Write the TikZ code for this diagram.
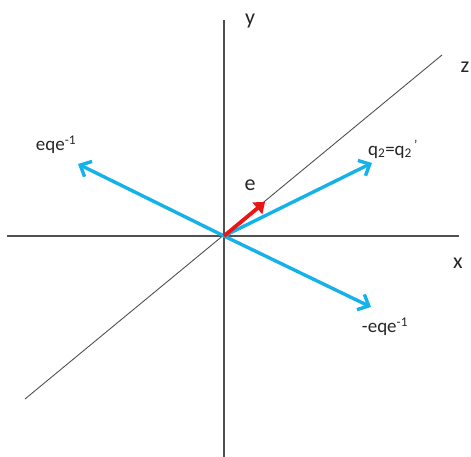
\documentclass[tikz,border=0pt]{standalone}
\usepackage{fontspec}
\setmainfont{Carlito}
\usetikzlibrary{arrows.meta}
\definecolor{cyanarrow}{RGB}{20,178,232}
\definecolor{redarrow}{RGB}{236,20,20}
\definecolor{axisgray}{RGB}{80,80,80}
\tikzset{
  axisline/.style={draw=axisgray, line width=1.5pt},
  zline/.style={draw=axisgray, line width=0.9pt},
  vecarrow/.style={draw=cyanarrow, line width=3.4pt, -{Straight Barb[length=9pt,width=17pt,line width=3.4pt]}},
  evec/.style={draw=redarrow, line width=3.8pt, -{Triangle[length=10pt,width=15pt]}},
  lbl/.style={inner sep=0pt, text=black!85},
  axlbl/.style={lbl, font=\fontsize{22}{24}\selectfont},
  veclbl/.style={lbl, font=\fontsize{19}{21}\selectfont}
}
\begin{document}
\begin{tikzpicture}[x=1pt,y=-1pt]
\useasboundingbox (0,0) rectangle (471,457);
\coordinate (O) at (224,236);
\coordinate (xl) at (7,236);
\coordinate (xr) at (459,236);
\coordinate (yt) at (224,20);
\coordinate (yb) at (224,457);
\coordinate (zl) at (25,399);
\coordinate (zr) at (442,55);
\coordinate (a1) at (78,164);
\coordinate (a2) at (372,163);
\coordinate (a3) at (371,307);
\coordinate (a4) at (265,202);
\draw[axisline] (xl) -- (xr);
\draw[axisline] (yb) -- (yt);
\draw[zline] (zl) -- (zr);
\draw[vecarrow] (O) -- (a1);
\draw[vecarrow] (O) -- (a2);
\draw[vecarrow] (O) -- (a3);
\draw[evec] (O) -- (a4);
\node[axlbl] (ylab) at (250,21) {y};
\node[axlbl] (zlab) at (465,67) {z};
\node[axlbl] (xlab) at (458,263) {x};
\node[axlbl] (elab) at (250,185) {e};
\node[veclbl] (l1) at (56,145) {eqe\textsuperscript{-1}};
\node[veclbl] (l2) at (393,149) {q\textsubscript{2}=q\textsubscript{2}\textsuperscript{\,\textquoteright}};
\node[veclbl] (l3) at (385,327) {-eqe\textsuperscript{-1}};
\end{tikzpicture}
\end{document}
